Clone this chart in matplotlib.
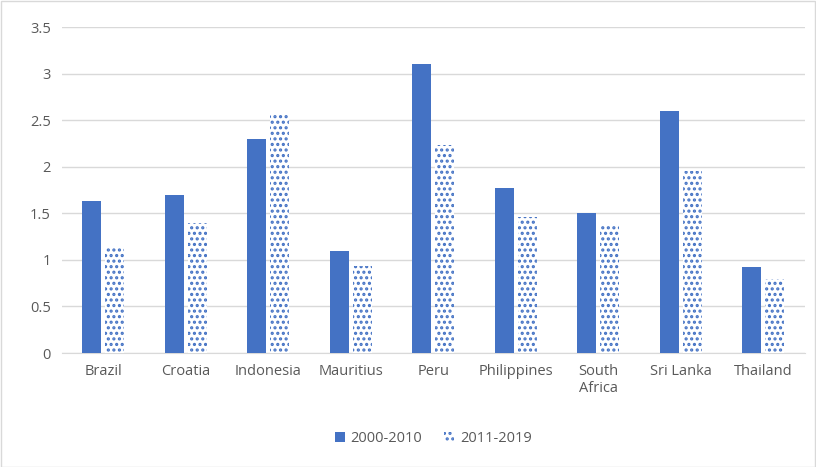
import matplotlib.pyplot as plt
import numpy as np

plt.rcParams['font.family'] = ['Open Sans', 'DejaVu Sans']
plt.rcParams['hatch.linewidth'] = 1.5

countries = ['Brazil', 'Croatia', 'Indonesia', 'Mauritius', 'Peru',
             'Philippines', 'South\nAfrica', 'Sri Lanka', 'Thailand']
p2000 = [1.63, 1.70, 2.30, 1.10, 3.10, 1.77, 1.50, 2.60, 0.92]
p2011 = [1.14, 1.40, 2.56, 0.94, 2.23, 1.46, 1.37, 1.95, 0.80]

blue = '#4472C4'
grey = '#595959'

fig = plt.figure(figsize=(8.16, 4.67), dpi=100)
fig.patches.append(plt.Rectangle((0.001, 0.001), 0.998, 0.997, transform=fig.transFigure,
                                 fill=False, edgecolor='#D9D9D9', lw=1))
ax = fig.add_axes([0.076, 0.244, 0.910, 0.698])

x = np.arange(len(countries))
w = 0.23
ax.bar(x - w/2 - 0.025, p2000, w, color=blue, label='2000-2010', zorder=3)
ax.bar(x + w/2 + 0.025, p2011, w, facecolor='white', edgecolor=blue, hatch='...',
       lw=0, label='2011-2019', zorder=3)

ax.set_xlim(-0.5, len(countries) - 0.5)
ax.set_ylim(0, 3.5)
ax.set_yticks(np.arange(0, 3.51, 0.5))
ax.set_yticklabels(['0', '0.5', '1', '1.5', '2', '2.5', '3', '3.5'])
ax.set_xticks(x)
ax.set_xticklabels(countries)
ax.yaxis.grid(True, color='#D9D9D9', lw=1, zorder=0)
for s in ['top', 'right', 'left']:
    ax.spines[s].set_visible(False)
ax.spines['bottom'].set_color('#D9D9D9')
ax.tick_params(axis='both', length=0, colors=grey, labelsize=10.5, pad=8)

ax.legend(loc='upper center', bbox_to_anchor=(0.5, -0.2), ncol=2, frameon=False,
          fontsize=10.5, labelcolor=grey, handlelength=0.7, handleheight=0.7,
          columnspacing=1.5, handletextpad=0.4)

fig.savefig('out.png', dpi=100)
